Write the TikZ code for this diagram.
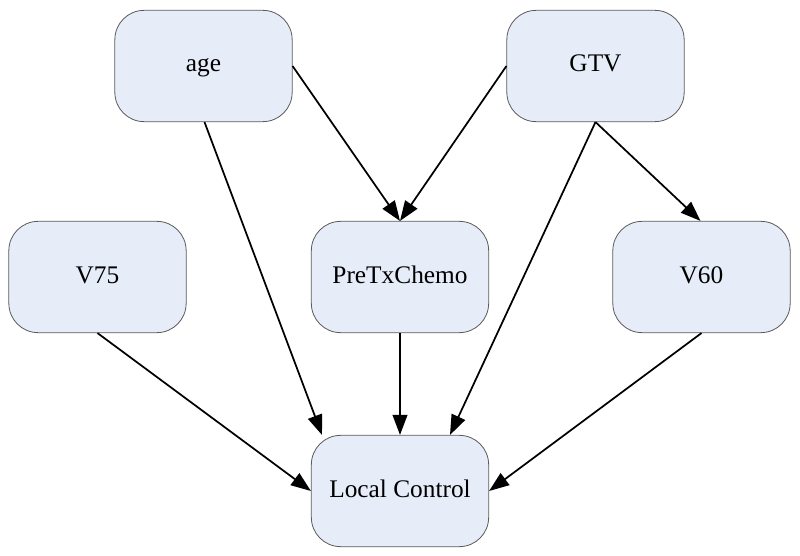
\documentclass[tikz,border=0pt]{standalone}
\usepackage{fontspec}
\setmainfont{Liberation Serif}
\usepackage{xcolor}
\usepackage{tikz}
\usetikzlibrary{arrows.meta,positioning,calc}
\definecolor{nodefill}{RGB}{230,237,248}
\definecolor{nodeedge}{RGB}{90,90,90}

\begin{document}
\begin{tikzpicture}[x=0.75pt,y=-0.75pt,font=\fontsize{19}{23}\selectfont,
  varnode/.style={draw=nodeedge,line width=0.6pt,fill=nodefill,rounded corners=22pt,
    minimum width=133pt,minimum height=83.5pt,inner sep=0pt,text height=13pt,text depth=4pt},
  edge/.style={line width=1.3pt,-{Triangle[length=15pt,width=11pt]}}]
\useasboundingbox (0,0) rectangle (800,556);
% variables
\node[varnode] (age) at (203.5,66) {age};
\node[varnode] (gtv) at (595.5,66) {GTV};
\node[varnode] (v75) at (97.5,277) {V75};
\node[varnode] (pre) at (400,277) {PreTxChemo};
\node[varnode] (v60) at (701.5,277) {V60};
\node[varnode] (lc) at (400,491) {Local Control};
% dependencies
\draw[edge] (age.east) -- (pre.north);
\draw[edge] (gtv.west) -- (pre.north);
\draw[edge] ($(age.south)+(1,0)$) -- ($(lc.north)+(-78,0)$);
\draw[edge] (gtv.south) -- ($(lc.north)+(50,0)$);
\draw[edge] (gtv.south) -- ($(v60.north)+(-1,0)$);
\draw[edge] (v75.south) -- (lc.west);
\draw[edge] (pre.south) -- (lc.north);
\draw[edge] (v60.south) -- (lc.east);
\end{tikzpicture}
\end{document}
